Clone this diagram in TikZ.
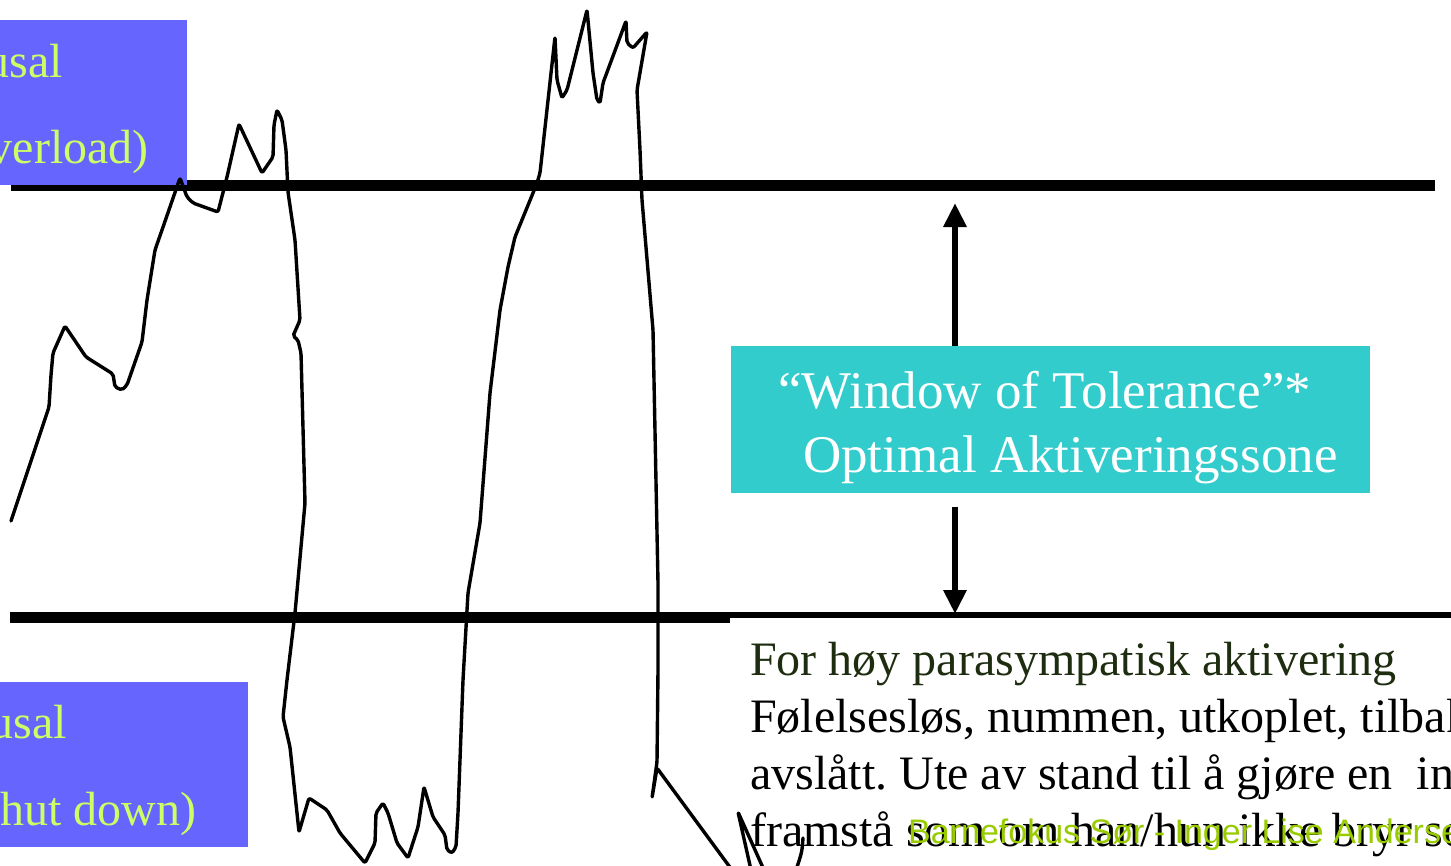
\documentclass[tikz,border=0pt]{standalone}
\usepackage{fontspec}
\setmainfont{Liberation Serif}
\newfontfamily\footsans{Liberation Sans}
\usetikzlibrary{arrows.meta}
\definecolor{boxblue}{HTML}{6666FF}
\definecolor{limetext}{HTML}{CCFF66}
\definecolor{wincyan}{HTML}{33CCCC}
\definecolor{darkolive}{HTML}{1E2D0F}
\definecolor{footgreen}{HTML}{99CC00}
\frenchspacing
\begin{document}
\begin{tikzpicture}[x=1pt,y=-1pt,
  bar/.style={line width=11pt},
  wave/.style={line width=3.4pt,line join=round,line cap=round,rounded corners=2pt},
  bluebox/.style={fill=boxblue,draw=none,anchor=north west,inner sep=0pt},
  sidelbl/.style={font=\fontsize{48}{58}\selectfont,text=limetext,inner sep=0pt},
  winlbl/.style={font=\fontsize{53}{64}\selectfont,text=white,inner sep=0pt,anchor=base west},
  desclbl/.style={font=\fontsize{48}{57}\selectfont,text=black,inner sep=0pt,anchor=base west},
  bigarrow/.style={line width=6pt,-{Triangle[width=22pt,length=24pt]}}
]
\useasboundingbox (0,0) rectangle (1451,865);
\clip (0,0) rectangle (1451,865);

% threshold lines
\coordinate (topL) at (11,185.5);
\coordinate (topR) at (1435,185.5);
\coordinate (botL) at (10,617.5);
\coordinate (botR) at (1451,617.5);
\draw[bar] (topL) -- (topR);
\draw[bar] (botL) -- (botR);

% left boxes
\node[bluebox,minimum width=187pt,minimum height=165pt] (hyper) at (0,20) {};
\node[sidelbl,anchor=base east] (hyperA) at (63,77) {usal};
\node[sidelbl,anchor=base east] (hyperB) at (149,163) {verload)};

\node[bluebox,minimum width=248pt,minimum height=165pt] (hypo) at (0,682) {};
\node[sidelbl,anchor=base east] (hypoA) at (67,738) {usal};
\node[sidelbl,anchor=base west] (hypoB) at (0,825) {hut down)};

% window of tolerance box
\node[fill=wincyan,anchor=north west,minimum width=639pt,minimum height=147pt,inner sep=0pt] (win) at (731,346) {};
\node[winlbl] (winA) at (778,408) {“Window of Tolerance”*};
\node[winlbl] (winB) at (803,472) {Optimal Aktiveringssone};

% arrows
\coordinate (upT) at (955,203);
\coordinate (dnS) at (955,507);
\coordinate (dnT) at (955,614);
\draw[bigarrow] (win.north -| upT) -- (upT);
\draw[bigarrow] (dnS) -- (dnT);

% description text box
\node[fill=white,anchor=north west,minimum width=721pt,minimum height=247pt,inner sep=0pt] (desc) at (730,618) {};
\node[desclbl,text=darkolive] (d1) at (750,675) {For høy parasympatisk aktivering};
\node[desclbl] (d2) at (750,732) {Følelsesløs, nummen, utkoplet, tilbaketrukket,};
\node[desclbl] (d3) at (750,789) {avslått. Ute av stand til å gjøre en~ innsats};
\node[desclbl] (d4) at (750,846) {framstå som om han/hun ikke bryr seg};
\node[font=\footsans\fontsize{34}{40}\selectfont,text=footgreen,inner sep=0pt,anchor=base west] (foot) at (908,843) {Barnefokus Sør - Inger Lise Andersen};

% arousal curve
\draw[wave] (11,521) -- (49,407) -- (51,375) -- (53,353) -- (65,326) -- (86,357) -- (113,374) -- (115,387) -- (122,390) -- (127,385) -- (142,342) -- (147,300) -- (155,250) -- (162,230) -- (180,178) -- (187,197) -- (193,203) -- (218,212) -- (227,177) -- (239,124) -- (262,173) -- (273,157) -- (274,125) -- (277,110) -- (282,120) -- (286,150) -- (288,192) -- (295,240) -- (300,320) -- (293,336) -- (298,340) -- (301,353) -- (305,503) -- (295,613) -- (287,680) -- (283,717) -- (290,747) -- (299,832) -- (309,798) -- (327,810) -- (340,833) -- (365,863) -- (375,843) -- (376,813) -- (383,803) -- (388,813) -- (397,843) -- (408,858) -- (418,827) -- (424,787) -- (433,817) -- (445,835) -- (447,850) -- (452,853) -- (456,847) -- (458,813) -- (463,680) -- (468,593) -- (480,523) -- (490,393) -- (500,310) -- (508,267) -- (515,237) -- (533,193) -- (537,183) -- (540,173) -- (555,37) -- (557,80) -- (562,98) -- (567,90) -- (587,10) -- (593,73) -- (597,100) -- (600,103) -- (603,83) -- (626,21) -- (627,43) -- (633,48) -- (647,32) -- (637,90) -- (640,150) -- (642,200) -- (653,330) -- (658,583) -- (658,670) -- (657,762) -- (652,798) -- (657,768) -- (732,870);
\draw[wave] (751,870) -- (738,812) -- (764,870);
\draw[wave] (803,838) .. controls (802,852) .. (796,870);
\end{tikzpicture}
\end{document}
